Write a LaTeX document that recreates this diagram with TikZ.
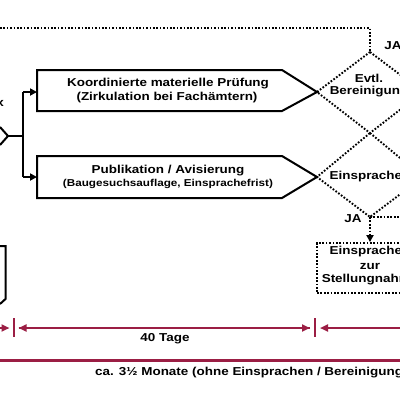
\documentclass[tikz,border=0pt]{standalone}
\usepackage{fontspec}
\setmainfont{Liberation Sans}[FakeStretch=1.17]
\usetikzlibrary{arrows.meta}
\definecolor{tlred}{RGB}{155,30,68}
\tikzset{
  solidline/.style={draw=black, line width=2pt, line join=miter},
  dotline/.style={draw=black, line width=1.9pt, dash pattern=on 1.7pt off 1.7pt},
  arr/.style={-{Triangle[length=7pt,width=7pt]}},
  redline/.style={draw=tlred, line width=2pt},
  redarr/.style={redline, -{Triangle[length=8pt,width=7pt]}},
  txt/.style={font=\bfseries\fontsize{11.5}{14}\selectfont, align=center, inner sep=0pt},
  smalltxt/.style={font=\bfseries\fontsize{10}{12}\selectfont, align=center, inner sep=0pt},
}
\begin{document}
\begin{tikzpicture}[x=1pt,y=-1pt]
\useasboundingbox (0,0) rectangle (400,400);
\clip (0,0) rectangle (400,400);
\fill[white] (0,0) rectangle (400,400);

% coordinates
\coordinate (topL) at (0,28);
\coordinate (topC) at (370,28);
\coordinate (dA) at (370,52);   % upper diamond top
\coordinate (dAl) at (317,92);
\coordinate (dAr) at (423,92);
\coordinate (dAb) at (370,133);
\coordinate (dBl) at (317,177);
\coordinate (dBr) at (423,177);
\coordinate (dBb) at (370,217);
\coordinate (rightOut) at (420,217);
\coordinate (split) at (23,136);
\coordinate (lv) at (8,136);

% left partial diamond and box
\draw[solidline] (0,127) -- (lv) -- (0,145);
\draw[solidline] (0,246) -- (5.5,246) -- (5.5,299) -- (0,304);
\node[txt] (okl) at (0,103) {x};

% branching
\draw[solidline] (lv) -- (split);
\draw[solidline] (23,92) -- (23,177);
\coordinate (b1) at (23,92);
\coordinate (b2) at (23,177);

% pentagon boxes
\draw[solidline] (37,70) -- (282,70) -- (dAl) -- (282,111) -- (37,111) -- cycle;
\draw[solidline] (37,156) -- (282,156) -- (dBl) -- (282,198) -- (37,198) -- cycle;
\coordinate (p1) at (37,92);
\coordinate (p2) at (37,177);
\draw[solidline, arr] (b1) -- (p1);
\draw[solidline, arr] (b2) -- (p2);
\node[txt] (t1) at (168,84) {Koordinierte materielle Prüfung};
\node[txt] (t2) at (167,98) {(Zirkulation bei Fachämtern)};
\node[txt] (t3) at (168,171) {Publikation / Avisierung};
\node[smalltxt] (t4) at (168,184) {(Baugesuchsauflage, Einsprachefrist)};

% diamonds (dotted)
\draw[dotline] (dA) -- (dAr) -- (dAb) -- (dAl) -- cycle;
\draw[dotline] (dAb) -- (dBr) -- (dBb) -- (dBl) -- cycle;
\node[txt] (e1) at (369,78) {Evtl.};
\node[txt] (e2) at (369,92) {Bereinigung};
\node[txt] (e3) at (370,177) {Einsprachen};

% top dotted loop
\draw[dotline] (topL) -- (topC) -- (dA);
\node[txt] (ja1) at (393,46) {JA};
\node[txt] (ja2) at (353,219) {JA};
\draw[dotline] (dBb) -- (rightOut);

% box Einsprachen zur Stellungnahme
\node[dotline, minimum width=106pt, minimum height=50pt, inner sep=0pt] (box) at (370,268) {};
\node[txt] (b1t) at (370,252) {Einsprachen};
\node[txt] (b2t) at (370,266) {zur};
\node[txt] (b3t) at (370,280) {Stellungnahme};
\draw[dotline, arr] (dBb) -- (box.north);

% timeline
\coordinate (tk1) at (14,328);
\coordinate (tk2) at (315,328);
\draw[redline] (14,318) -- (14,337);
\draw[redline] (315,318) -- (315,337);
\draw[redarr] (-5,328) -- (9.5,328);
\draw[redarr] (310,328) -- (18.5,328);
\draw[redarr] (18.5,328) -- (310,328);
\draw[redarr] (410,328) -- (320,328);
\node[txt] (tage) at (165,339) {40 Tage};
\draw[draw=tlred, line width=3pt] (0,360) -- (400,360);
\node[txt, anchor=west] (monate) at (95,373) {ca. 3½ Monate (ohne Einsprachen / Bereinigungen)};
\end{tikzpicture}
\end{document}
